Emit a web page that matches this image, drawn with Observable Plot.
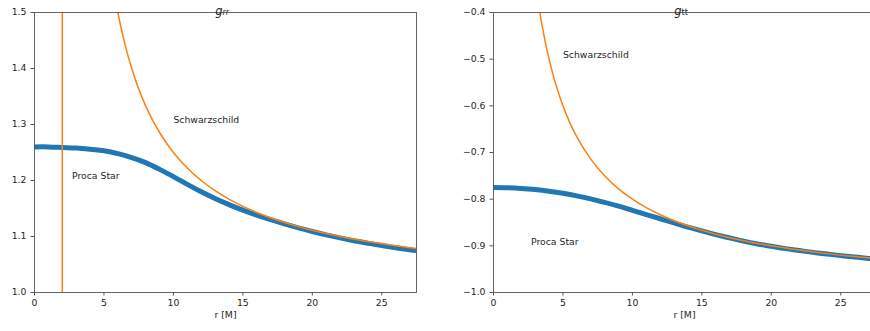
<!DOCTYPE html>
<html><head><meta charset="utf-8">
<script src="https://cdn.jsdelivr.net/npm/d3@7"></script>
<script src="https://cdn.jsdelivr.net/npm/@observablehq/plot@0.6"></script>
<style>
html,body{margin:0;padding:0;background:#fff;overflow:hidden;width:870px;height:331px}
#wrap{position:relative;width:870px;height:331px;overflow:hidden}
#left{position:absolute;left:0;top:0;width:435px;height:331px}
#right{position:absolute;left:435px;top:0;width:445px;height:331px}
svg{max-width:none !important}
</style></head><body><div id="wrap"><div id="left"></div><div id="right"></div></div>
<script>
// ---- data ----
const xTicks = [0, 5, 10, 15, 20, 25];
const grrTicks = [1.0, 1.1, 1.2, 1.3, 1.4, 1.5];
const gttTicks = [-1.0, -0.9, -0.8, -0.7, -0.6, -0.5, -0.4];
const xLabel = "r [M]";
const seriesNames = ["Proca Star", "Schwarzschild"];

// Proca star
const rProca = [0,1,2,3,4,5,6,7,8,9,10,11,12,13,14,15,16,17,18,19,20,21,22,23,24,25,26,27,27.5];
const grrProca = [1.260,1.260,1.259,1.258,1.256,1.253,1.248,1.241,1.232,1.220,1.207,1.193,1.180,1.168,1.157,1.147,1.138,1.130,1.1225,1.1155,1.109,1.103,1.0975,1.0925,1.088,1.084,1.080,1.0765,1.075];
const gttProca = [-0.775,-0.7755,-0.777,-0.7795,-0.783,-0.7875,-0.793,-0.7995,-0.807,-0.815,-0.824,-0.833,-0.842,-0.851,-0.860,-0.868,-0.876,-0.883,-0.890,-0.896,-0.901,-0.906,-0.910,-0.914,-0.9175,-0.921,-0.924,-0.927,-0.928];

// Schwarzschild g_rr (with the pole at r = 2)
const rSchwRR = [1.9,1.99,2.01,2.1,3,4,5,5.5,6,6.5,7,7.5,8,9,10,11,12,13,14,16,18,20,22,24,26,28];
const grrSchw = [-19,-199,201,21,3,2,1.6667,1.5714,1.5,1.4444,1.4,1.3636,1.3333,1.2857,1.25,1.2222,1.2,1.1818,1.1667,1.1429,1.125,1.1111,1.1,1.0909,1.0833,1.0769];
// Schwarzschild g_tt
const rSchwTT = [3,3.5,4,4.5,5,5.5,6,7,8,9,10,11,12,14,16,18,20,22,24,26,28];
const gttSchw = [-0.3333,-0.4286,-0.5,-0.5556,-0.6,-0.6364,-0.6667,-0.7143,-0.75,-0.7778,-0.8,-0.8182,-0.8333,-0.8571,-0.875,-0.8889,-0.9,-0.9091,-0.9167,-0.9231,-0.9286];

// annotation positions (data coords)
const grrLabelR = [2.7, 10];
const grrLabelG = [1.2, 1.3];
const gttLabelR = [2.7, 5];
const gttLabelG = [-0.9, -0.5];

// ---- build ----
const zip = (xs, ys) => xs.map((r, i) => ({r, g: ys[i]}));
const fmt = d => d.toFixed(1).replace("-", "\u2212");
const FONT = "DejaVu Sans";

function panel({width, marginLeft, marginRight, yDomain, yTicks, proca, schw, labels, sub, subItalic}) {
  return Plot.plot({
    width, height: 331,
    marginTop: 12, marginBottom: 39, marginLeft, marginRight,
    x: {domain: [0, 27.5]},
    y: {domain: yDomain},
    style: {fontFamily: FONT, fontSize: "9.3px", color: "#262626", background: "#fff"},
    marks: [
      Plot.line(proca, {x: "r", y: "g", stroke: "#1f77b4", strokeWidth: 5, curve: "natural", clip: true}),
      Plot.line(schw, {x: "r", y: "g", stroke: "#ff7f0e", strokeWidth: 1.5, curve: "monotone-x", clip: true}),
      Plot.frame({stroke: "#555", strokeWidth: 0.9}),
      Plot.axisX({ticks: xTicks, tickSize: 3.5, tickPadding: 3, label: null, tickFormat: d => String(d), stroke: "#555"}),
      Plot.axisY({ticks: yTicks, tickSize: 3.5, tickPadding: 4.5, label: null, tickFormat: fmt, stroke: "#555"}),
      Plot.text(labels, {x: "r", y: "g", text: "t", textAnchor: "start", dy: -4, fill: "#262626"}),
      Plot.text([xLabel], {frameAnchor: "bottom", dy: 25, fill: "#262626"}),
      Plot.text(["g"], {frameAnchor: "top", dx: -3, dy: -6, textAnchor: "end", fontStyle: "italic", fontSize: 11.5, fill: "#262626"}),
      Plot.text([sub], {frameAnchor: "top", dx: -3, dy: -3.5, textAnchor: "start", fontStyle: subItalic ? "italic" : "normal", fontSize: 8, fill: "#262626"})
    ]
  });
}

const grrLabels = seriesNames.map((t, i) => ({t, r: grrLabelR[i], g: grrLabelG[i]}));
const gttLabels = seriesNames.map((t, i) => ({t, r: gttLabelR[i], g: gttLabelG[i]}));

document.getElementById("left").append(panel({
  width: 435, marginLeft: 34, marginRight: 19,
  yDomain: [1.0, 1.5], yTicks: grrTicks,
  proca: zip(rProca, grrProca), schw: zip(rSchwRR, grrSchw),
  labels: grrLabels, sub: "rr", subItalic: true
}));
document.getElementById("right").append(panel({
  width: 445, marginLeft: 58, marginRight: 5,
  yDomain: [-1.0, -0.4], yTicks: gttTicks,
  proca: zip(rProca, gttProca), schw: zip(rSchwTT, gttSchw),
  labels: gttLabels, sub: "tt", subItalic: false
}));
</script></body></html>
